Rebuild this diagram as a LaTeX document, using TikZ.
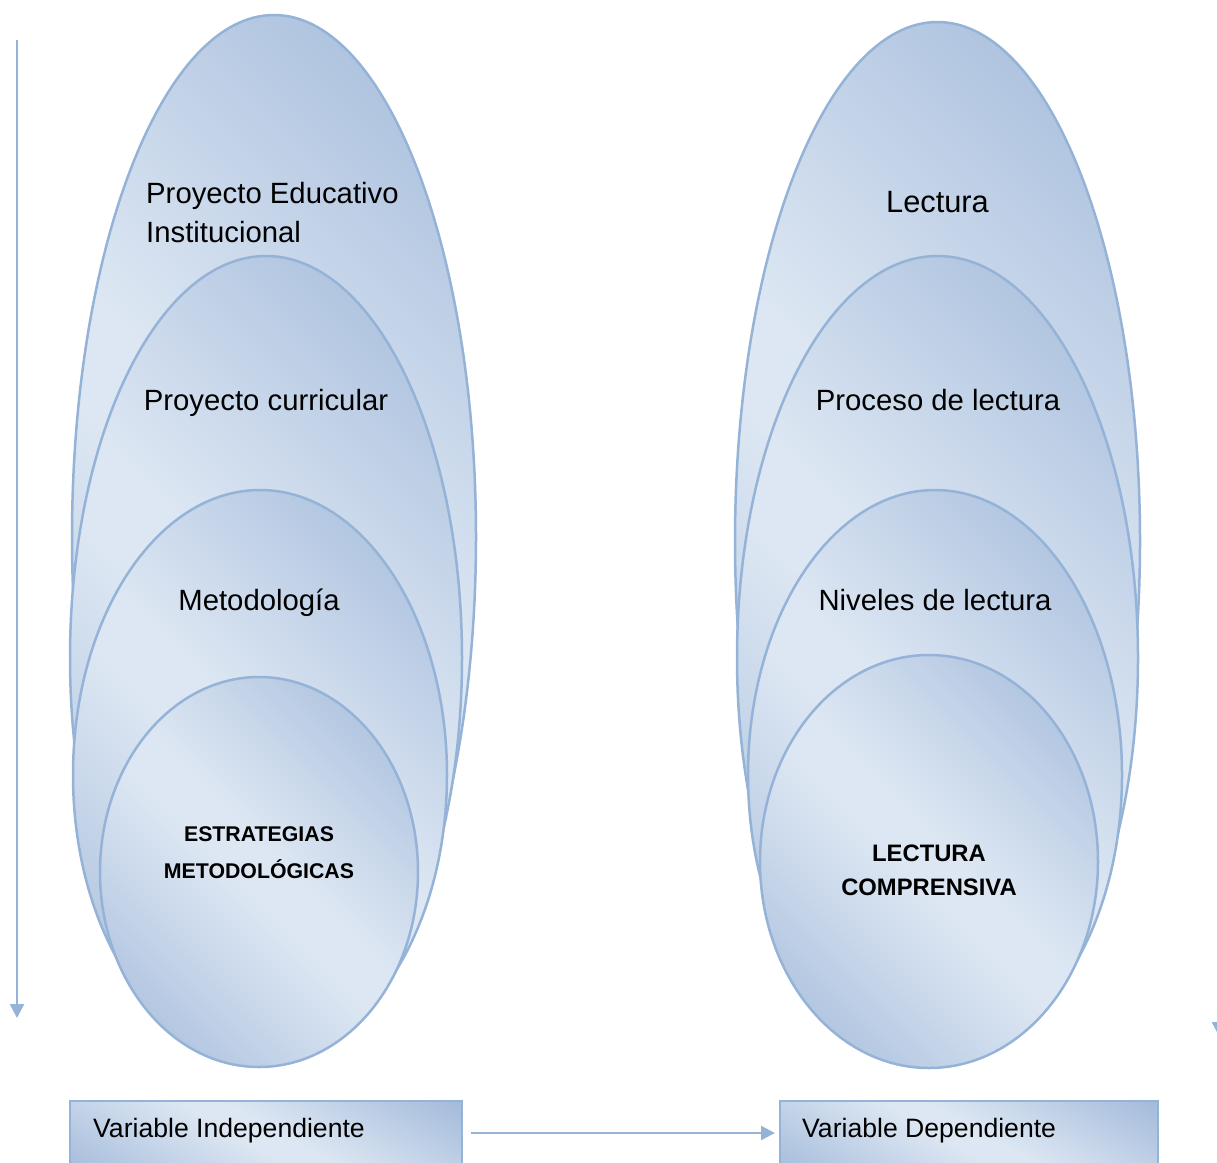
\documentclass[tikz,border=0pt]{standalone}
\usepackage{fontspec}
\setmainfont{Liberation Sans}
\usetikzlibrary{arrows.meta,shapes.geometric}
\definecolor{edge}{RGB}{149,179,215}
\definecolor{shdark}{RGB}{134,164,206}
\definecolor{shlight}{RGB}{221,231,243}
\pgfdeclarehorizontalshading{diagband}{100bp}{color(0bp)=(shdark); color(47bp)=(shlight); color(53bp)=(shlight); color(100bp)=(shdark)}
\begin{document}
\begin{tikzpicture}[x=1pt,y=-1pt,
  bubble/.style={ellipse, draw=edge, line width=2.5pt, inner sep=0pt,
    shading=diagband, shading angle=45},
  panel/.style={rectangle, draw=edge, line width=2.5pt, inner sep=0pt,
    shading=diagband, shading angle=60},
  arr/.style={draw=edge, line width=2.5pt, -{Triangle[width=14pt,length=14pt]}},
  lbl/.style={inner sep=0pt, font=\fontsize{29.3}{39}\selectfont},
  lblbold/.style={inner sep=0pt, font=\bfseries\fontsize{21.3}{37}\selectfont},
  lblboldr/.style={inner sep=0pt, font=\bfseries\fontsize{23.8}{33}\selectfont},
  boxlbl/.style={inner sep=0pt, font=\fontsize{26.6}{30}\selectfont}]
\useasboundingbox (0,0) rectangle (1217,1162);
% left group
\node[bubble, minimum width=404pt, minimum height=1044pt] (l1) at (274,537) {};
\node[bubble, minimum width=392pt, minimum height=804pt] (l2) at (266,658) {};
\node[bubble, minimum width=374pt, minimum height=570pt] (l3) at (260,775) {};
\node[bubble, minimum width=318pt, minimum height=390pt] (l4) at (259,872) {};
% right group
\node[bubble, minimum width=405pt, minimum height=1038pt] (r1) at (937.5,541) {};
\node[bubble, minimum width=401pt, minimum height=804pt] (r2) at (937.5,658) {};
\node[bubble, minimum width=374pt, minimum height=570pt] (r3) at (935,775) {};
\node[bubble, minimum width=338pt, minimum height=413pt] (r4) at (929,861.5) {};
% labels
\node[lbl, anchor=base west] (t1a) at (146,203) {Proyecto Educativo};
\node[lbl, anchor=base west] (t1b) at (146,242) {Institucional};
\node[lbl, anchor=base] (t2) at (266,410) {Proyecto curricular};
\node[lbl, anchor=base] (t3) at (259,610) {Metodología};
\node[lblbold, anchor=base] (t4a) at (259,841) {ESTRATEGIAS};
\node[lblbold, anchor=base] (t4b) at (259,878) {METODOLÓGICAS};
\node[lbl, anchor=base, font=\fontsize{30.8}{39}\selectfont] (s1) at (937.5,212) {Lectura};
\node[lbl, anchor=base] (s2) at (938,410) {Proceso de lectura};
\node[lbl, anchor=base] (s3) at (935,610) {Niveles de lectura};
\node[lblboldr, anchor=base] (s4a) at (929,861.5) {LECTURA};
\node[lblboldr, anchor=base] (s4b) at (929,895) {COMPRENSIVA};
% boxes
\node[panel, minimum width=392pt, minimum height=76pt] (ibox) at (266,1139) {};
\node[panel, minimum width=378pt, minimum height=76pt] (dbox) at (969,1139) {};
\node[boxlbl, anchor=base west] (ilbl) at (93,1137) {Variable Independiente};
\node[boxlbl, anchor=base west] (dlbl) at (802,1137) {Variable Dependiente};
% arrows
\coordinate (v1) at (17,40);
\coordinate (v2) at (17,1018);
\draw[arr] (v1) -- (v2);
\coordinate (h1) at (471,1133);
\coordinate (h2) at (775,1133);
\draw[arr] (h1) -- (h2);
\coordinate (f1) at (1219,900);
\coordinate (f2) at (1219,1036);
\draw[arr] (f1) -- (f2);
\end{tikzpicture}
\end{document}
